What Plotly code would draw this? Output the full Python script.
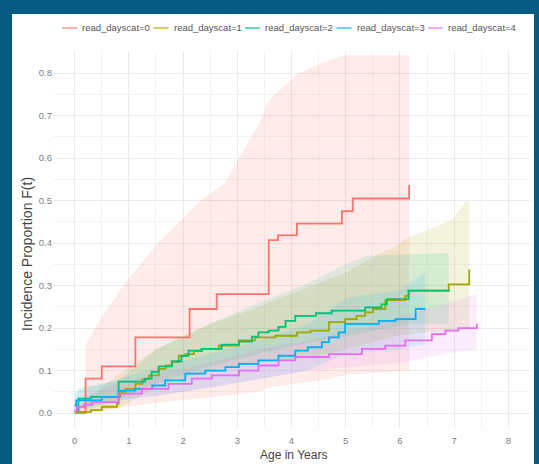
import plotly.graph_objects as go

# ---- cumulative incidence by reading-days category ----
groups = ["read_dayscat=0", "read_dayscat=1", "read_dayscat=2",
          "read_dayscat=3", "read_dayscat=4"]
colors = ["#F8766D", "#A3A500", "#00BF7D", "#00B0F6", "#E76BF3"]
fills = ["rgba(248,118,109,0.14)", "rgba(163,165,0,0.13)", "rgba(0,191,125,0.12)",
         "rgba(0,176,246,0.12)", "rgba(231,107,243,0.12)"]

# step curves: event time (years) and incidence proportion after the step
t0 = [0, 0.2, 0.5, 1.12, 2.12, 2.62, 3.58, 3.75, 4.1, 4.93, 5.13, 6.17]
f0 = [0, 0.081, 0.11, 0.178, 0.245, 0.28, 0.407, 0.418, 0.446, 0.475, 0.505, 0.537]

t1 = [0, 0.3, 0.5, 0.78, 0.81, 0.84, 0.94, 1.12, 1.25, 1.37, 1.55, 1.68, 1.8, 1.92,
      2.04, 2.2, 2.35, 2.66, 3.03, 3.33, 3.7, 4.1, 4.35, 4.69, 4.99, 5.2, 5.36, 5.5,
      5.73, 6.1, 6.16, 6.9, 7.28]
f1 = [0.003, 0.007, 0.015, 0.022, 0.038, 0.05, 0.057, 0.069, 0.08, 0.089, 0.104,
      0.112, 0.12, 0.135, 0.139, 0.146, 0.151, 0.159, 0.171, 0.178, 0.182, 0.19,
      0.194, 0.214, 0.221, 0.229, 0.237, 0.245, 0.266, 0.276, 0.288, 0.303, 0.338]

t2 = [0, 0.07, 0.3, 0.81, 1.3, 1.42, 1.55, 1.79, 1.97, 2.1, 2.34, 2.71, 3.03, 3.27,
      3.39, 3.58, 3.76, 3.89, 4.07, 4.45, 4.74, 5.36, 5.66, 5.76, 6.16, 6.9]
f2 = [0.005, 0.034, 0.038, 0.074, 0.081, 0.097, 0.11, 0.122, 0.135, 0.147, 0.151,
      0.161, 0.168, 0.18, 0.19, 0.194, 0.203, 0.217, 0.229, 0.235, 0.241, 0.249,
      0.256, 0.268, 0.288, 0.29]

t3 = [0, 0.03, 0.5, 0.81, 1.12, 1.43, 1.67, 2.04, 2.41, 2.78, 3.03, 3.39, 3.76,
      4.07, 4.3, 4.56, 4.69, 4.87, 4.99, 5.61, 5.92, 6.29, 6.47]
f3 = [0.018, 0.03, 0.038, 0.053, 0.057, 0.065, 0.077, 0.093, 0.1, 0.108, 0.116,
      0.124, 0.135, 0.147, 0.155, 0.167, 0.178, 0.19, 0.21, 0.217, 0.221, 0.245, 0.245]

t4 = [0, 0.04, 0.17, 0.32, 0.81, 1.24, 1.73, 2.16, 2.53, 3.03, 3.39, 3.76, 4.07,
      4.69, 5.3, 5.73, 6.1, 6.59, 6.84, 7.08, 7.42]
f4 = [0.005, 0.015, 0.02, 0.026, 0.046, 0.057, 0.069, 0.081, 0.089, 0.1, 0.112,
      0.124, 0.132, 0.139, 0.151, 0.159, 0.171, 0.186, 0.194, 0.2, 0.21]

# confidence bands: time, lower and upper bound
ci_t0 = [0.2, 0.5, 0.94, 1.55, 2.34, 2.78, 3.03, 3.39, 3.58, 4.13, 4.69, 5.0, 6.17]
ci_hi0 = [0.163, 0.226, 0.308, 0.402, 0.502, 0.542, 0.60, 0.678, 0.736, 0.80, 0.83, 0.842, 0.842]
ci_lo0 = [0.005, 0.008, 0.015, 0.025, 0.035, 0.04, 0.045, 0.05, 0.06, 0.07, 0.08, 0.09, 0.1]

ci_t1 = [0, 0.3, 0.8, 1.5, 2.5, 3.4, 3.76, 4.3, 4.69, 5.0, 5.6, 5.9, 6.1, 6.5, 6.96, 7.2, 7.28]
ci_hi1 = [0.003, 0.04, 0.09, 0.15, 0.21, 0.25, 0.27, 0.295, 0.315, 0.33, 0.375, 0.39,
          0.41, 0.43, 0.455, 0.495, 0.50]
ci_lo1 = [0.0, 0.0, 0.01, 0.06, 0.10, 0.12, 0.125, 0.13, 0.14, 0.15, 0.17, 0.18,
          0.185, 0.19, 0.19, 0.20, 0.20]

ci_t2 = [0, 0.07, 0.8, 1.5, 2.5, 3.4, 4.3, 5.0, 5.4, 6.2, 6.9]
ci_hi2 = [0.02, 0.06, 0.075, 0.15, 0.21, 0.26, 0.305, 0.35, 0.37, 0.373, 0.377]
ci_lo2 = [0.0, 0.01, 0.03, 0.07, 0.11, 0.14, 0.165, 0.18, 0.19, 0.21, 0.21]

ci_t3 = [0, 0.8, 1.5, 2.5, 3.4, 4.3, 5.0, 6.0, 6.47]
ci_hi3 = [0.05, 0.08, 0.105, 0.14, 0.17, 0.21, 0.27, 0.29, 0.33]
ci_lo3 = [0.005, 0.03, 0.04, 0.06, 0.08, 0.10, 0.14, 0.15, 0.16]

ci_t4 = [0, 0.8, 1.5, 2.5, 3.4, 4.3, 5.3, 6.1, 6.9, 7.42]
ci_hi4 = [0.03, 0.07, 0.09, 0.12, 0.15, 0.17, 0.20, 0.23, 0.26, 0.28]
ci_lo4 = [0.0, 0.03, 0.04, 0.06, 0.08, 0.10, 0.11, 0.12, 0.14, 0.15]

curves = [(t0, f0), (t1, f1), (t2, f2), (t3, f3), (t4, f4)]
bands = [(ci_t0, ci_lo0, ci_hi0), (ci_t1, ci_lo1, ci_hi1), (ci_t2, ci_lo2, ci_hi2),
         (ci_t3, ci_lo3, ci_hi3), (ci_t4, ci_lo4, ci_hi4)]

x_ticks = [0, 1, 2, 3, 4, 5, 6, 7, 8]
y_ticks = [0.0, 0.1, 0.2, 0.3, 0.4, 0.5, 0.6, 0.7, 0.8]

fig = go.Figure()

# bands first, curves on top
for (bt, lo, hi), fc in zip(bands, fills):
    fig.add_trace(go.Scatter(
        x=list(bt) + list(bt)[::-1], y=list(hi) + list(lo)[::-1],
        fill="toself", fillcolor=fc, line=dict(width=0),
        mode="lines", hoverinfo="skip", showlegend=False))

for (ct, cf), col, name in zip(curves, colors, groups):
    fig.add_trace(go.Scatter(
        x=ct, y=cf, mode="lines", line=dict(color=col, width=1.8, shape="hv"),
        name=name, showlegend=False))

# figure geometry in pixels
W, H = 539, 464
L, R, T, B = 53, 9, 51, 36
pw, ph = W - L - R, H - T - B


def px_x(p):
    return (p - L) / pw


def px_y(p):
    return (H - B - p) / ph


shapes = [
    # white page inside the dark frame
    dict(type="rect", xref="paper", yref="paper", layer="below",
         x0=px_x(12), x1=px_x(534), y0=px_y(470), y1=px_y(14),
         fillcolor="white", line=dict(width=0)),
]
annotations = [
    dict(text="Incidence Proportion F(t)", textangle=-90, xref="paper", yref="paper",
         x=px_x(27), y=px_y(254), xanchor="center", yanchor="middle", showarrow=False,
         font=dict(size=14, color="#444444")),
    dict(text="Age in Years", xref="paper", yref="paper",
         x=px_x(293), y=px_y(455), xanchor="center", yanchor="middle", showarrow=False,
         font=dict(size=12, color="#444444")),
]

# legend row across the top
leg_y = 28
leg_start, leg_step = 62, 91.5
for i, (name, col) in enumerate(zip(groups, colors)):
    x0 = leg_start + i * leg_step
    shapes.append(dict(type="line", xref="paper", yref="paper",
                       x0=px_x(x0), x1=px_x(x0 + 15), y0=px_y(leg_y), y1=px_y(leg_y),
                       line=dict(color=col, width=1.5), opacity=0.75))
    annotations.append(dict(text=name, xref="paper", yref="paper",
                            x=px_x(x0 + 18), y=px_y(leg_y), xanchor="left", yanchor="middle",
                            showarrow=False, font=dict(size=9.5, color="#555555")))

grid = "#EBEBEB"
fig.update_layout(
    width=W, height=H,
    margin=dict(l=L, r=R, t=T, b=B),
    paper_bgcolor="#075B82", plot_bgcolor="rgba(0,0,0,0)",
    font=dict(family="Liberation Sans, Arial, sans-serif"),
    showlegend=False,
    shapes=shapes, annotations=annotations,
    xaxis=dict(range=[-0.4, 8.4], tickvals=x_ticks, ticktext=[str(v) for v in x_ticks],
               automargin=False,
               showgrid=True, gridcolor=grid, gridwidth=1, zeroline=False, showline=False,
               ticks="", ticklabelstandoff=5, tickfont=dict(size=9.5, color="#808080"),
               minor=dict(tickvals=[v + 0.5 for v in x_ticks[:-1]] + [-0.5],
                          showgrid=True, gridcolor="#F3F3F3", gridwidth=0.6)),
    yaxis=dict(range=[-0.035, 0.852], tickvals=y_ticks, ticktext=[f"{v:.1f}" for v in y_ticks],
               automargin=False,
               showgrid=True, gridcolor=grid, gridwidth=1, zeroline=False, showline=False,
               ticks="", tickfont=dict(size=9.5, color="#808080"),
               minor=dict(tickvals=[v + 0.05 for v in y_ticks],
                          showgrid=True, gridcolor="#F3F3F3", gridwidth=0.6)),
)

fig.write_html("out.html")
